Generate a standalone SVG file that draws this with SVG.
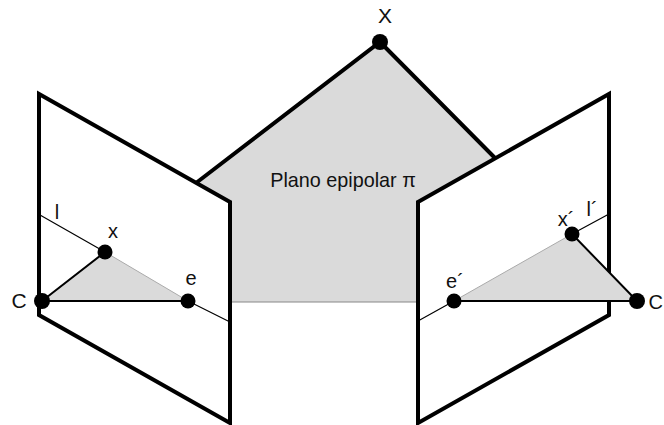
<svg xmlns="http://www.w3.org/2000/svg" width="664" height="425" viewBox="0 0 664 425">
<style>
.t{font-family:"Liberation Sans",Arial,sans-serif;fill:#111;font-size:20px;text-anchor:middle}
.pl{fill:none;stroke:#000;stroke-width:4;stroke-linejoin:miter}
.th{fill:none;stroke:#000;stroke-width:1.2}
.md{fill:none;stroke:#000;stroke-width:2}
.sh{fill:#dadada}
.d{fill:#000}
</style>
<rect width="664" height="425" fill="#fff"/>
<g id="connectors">
<polygon class="sh" points="380,42 495,158 418,202 418,302 230,302 230,202 196,183"/>
<polygon class="sh" points="42,301 105,252 188,301"/>
<path d="M230,302H418" fill="none" stroke="#888" stroke-width="1"/>
<path class="th" d="M40,215L105,252M188,301L230,322M418,321L454,301M572,234L609,214"/>
<path class="md" d="M42,301L105,252M42,301H188"/>
<path d="M105,252L188,301" fill="none" stroke="#aaa" stroke-width="1"/>
<path class="pl" d="M196,183L380,42L495,158"/>
<path class="pl" d="M230,202L39,94V315L230,423Z"/>
<path class="pl" d="M418,202L609,94V315L418,423Z"/>
<polygon class="sh" points="454,301 572,234 637,301"/>
<path d="M454,301L572,234" fill="none" stroke="#aaa" stroke-width="1"/>
<path class="md" d="M454,301H637M572,234L637,301"/>
</g>
<g id="node-X"><circle class="d" cx="380" cy="42" r="8"/><text class="t" x="385" y="23" style="font-size:21px">X</text></g>
<g id="node-C"><circle class="d" cx="42" cy="301" r="8"/><text class="t" x="19" y="308" style="font-size:21px">C</text></g>
<g id="node-x"><circle class="d" cx="105" cy="252" r="7.5"/><text class="t" x="113" y="238">x</text></g>
<g id="node-e"><circle class="d" cx="188" cy="301" r="7.5"/><text class="t" x="191" y="285">e</text></g>
<g id="node-e2"><circle class="d" cx="454" cy="301" r="7.5"/><text class="t" x="455" y="288">e´</text></g>
<g id="node-x2"><circle class="d" cx="572" cy="234" r="7.5"/><text class="t" x="566" y="226">x´</text></g>
<g id="node-C2"><circle class="d" cx="637" cy="301" r="8"/><text class="t" x="648.5" y="309" style="text-anchor:start">C</text></g>
<g id="label-l"><text class="t" x="57" y="219">l</text></g>
<g id="label-l2"><text class="t" x="592" y="216">l´</text></g>
<g id="label-plane"><text class="t" x="343" y="187" style="font-size:19.8px">Plano epipolar π</text></g>
</svg>
